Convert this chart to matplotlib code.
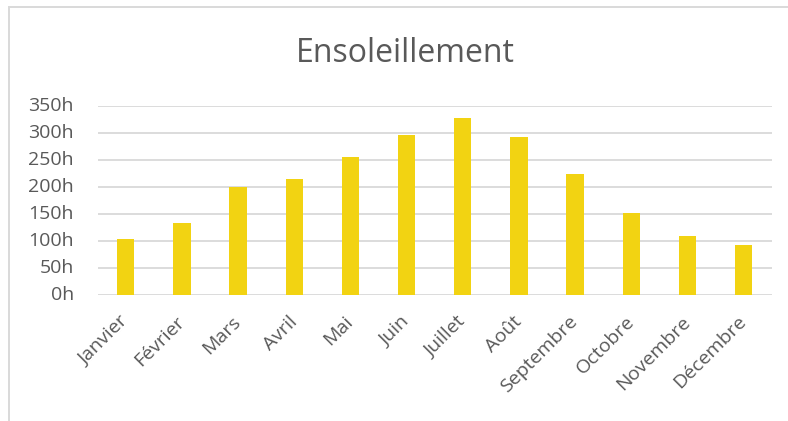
import matplotlib
matplotlib.use("Agg")
import matplotlib.pyplot as plt
import matplotlib.transforms as mtransforms
from matplotlib.patches import Rectangle

months = ["Janvier", "Février", "Mars", "Avril", "Mai", "Juin", "Juillet",
          "Août", "Septembre", "Octobre", "Novembre", "Décembre"]
sunshine_hours = [104, 134, 200, 214, 255, 295, 327, 293, 224, 152, 110, 92]
y_ticks = [0, 50, 100, 150, 200, 250, 300, 350]
y_tick_labels = [f"{v}h" for v in y_ticks]

text_color = "#595959"
grid_color = "#D9D9D9"
bar_color = "#F2D312"

plt.rcParams["font.family"] = ["Open Sans", "DejaVu Sans"]

fig = plt.figure(figsize=(7.88, 4.21), dpi=100)
fig.patch.set_facecolor("white")

# chart-area frame
fig.patches.append(Rectangle((8.5 / 788, -0.05), 1.0, 1 - 7 / 421 + 0.05,
                             transform=fig.transFigure, fill=False,
                             edgecolor=grid_color, linewidth=1.4))

ax = fig.add_axes([97.7 / 788, 1 - 295.3 / 421, 674 / 788, 189.6 / 421])
x = range(len(months))
ax.bar(x, sunshine_hours, width=0.31, color=bar_color, zorder=3)

ax.set_xlim(-0.5, len(months) - 0.5)
ax.set_ylim(0, 350)
ax.set_yticks(y_ticks)
ax.set_yticklabels([])
ax.set_xticks(list(x))
ax.set_xticklabels(months, rotation=45, ha="right", va="center",
                   rotation_mode="anchor", fontsize=14, color=text_color)
ax.tick_params(axis="both", length=0)
ax.tick_params(axis="x", pad=17)
ax.yaxis.grid(True, color=grid_color, linewidth=1.3, zorder=0)
for s in ax.spines.values():
    s.set_visible(False)

# value-axis labels, right-aligned in a column left of the plot
label_tr = mtransforms.blended_transform_factory(fig.transFigure, ax.transData)
for v, lab in zip(y_ticks, y_tick_labels):
    ax.text(74 / 788, v, lab, transform=label_tr, ha="right", va="center",
            fontsize=14, color=text_color, clip_on=False)

fig.text(405 / 788, 1 - 53 / 421, "Ensoleillement", ha="center", va="center",
         fontsize=23, color=text_color)

fig.savefig("out.png", dpi=100, facecolor="white")
